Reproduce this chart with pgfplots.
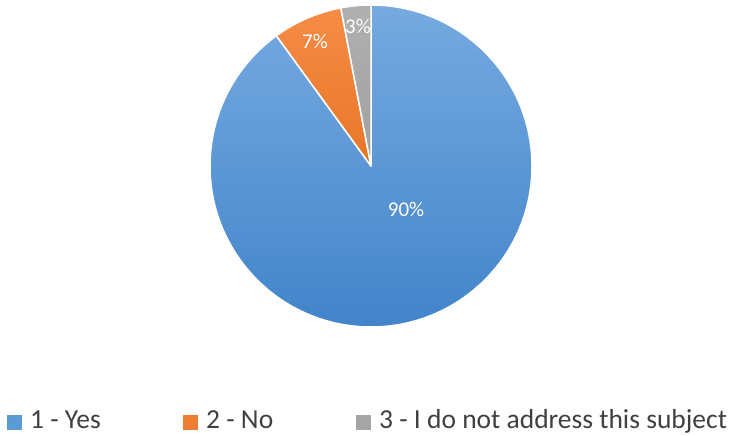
\documentclass[border=0pt]{standalone}
\usepackage{pgfplots}
\usepackage{pgfplotstable}
\pgfplotsset{compat=1.18}
\usepackage{fontspec}
\setmainfont{Carlito}
\definecolor{bluetop}{RGB}{118,170,224}
\definecolor{bluebot}{RGB}{66,132,202}
\definecolor{orangetop}{RGB}{246,140,70}
\definecolor{orangebot}{RGB}{232,118,40}
\definecolor{graytop}{RGB}{176,176,176}
\definecolor{graybot}{RGB}{160,160,160}
\definecolor{legblue}{RGB}{91,155,213}
\definecolor{legorange}{RGB}{237,125,49}
\definecolor{leggray}{RGB}{165,165,165}
\definecolor{txt}{RGB}{64,64,64}
\pgfplotstableread[col sep=comma]{
name,value
1 - Yes,90
2 - No,7
3 - I do not address this subject,3
}\piedata
\begin{document}
\begin{tikzpicture}
% angles from the table values (start at top, clockwise)
\pgfplotstablegetelem{0}{value}\of\piedata \edef\vA{\pgfplotsretval}
\pgfplotstablegetelem{1}{value}\of\piedata \edef\vB{\pgfplotsretval}
\pgfplotstablegetelem{2}{value}\of\piedata \edef\vC{\pgfplotsretval}
\pgfmathsetmacro{\aA}{90}
\pgfmathsetmacro{\aB}{90-3.6*\vA}
\pgfmathsetmacro{\aC}{\aB-3.6*\vB}
\pgfmathsetmacro{\aD}{\aC-3.6*\vC}
\begin{axis}[
  anchor=south west, at={(0,0)},
  width=737bp, height=436bp, scale only axis,
  xmin=0, xmax=737, ymin=0, ymax=436,
  axis lines=none, ticks=none, clip=false,
]
\path[top color=bluetop, bottom color=bluebot, draw=white, line width=1.5bp, line join=round]
  (axis cs:371,270) -- ++(\aA:161bp) arc[start angle=\aA, end angle=\aB, radius=161bp] -- cycle;
\path[top color=orangetop, bottom color=orangebot, draw=white, line width=1.5bp, line join=round]
  (axis cs:371,270) -- ++(\aB:161bp) arc[start angle=\aB, end angle=\aC, radius=161bp] -- cycle;
\path[top color=graytop, bottom color=graybot, draw=white, line width=1.5bp, line join=round]
  (axis cs:371,270) -- ++(\aC:161bp) arc[start angle=\aC, end angle=\aD, radius=161bp] -- cycle;
\node[text=white, font=\fontsize{21bp}{24bp}\selectfont] at (axis cs:406,227) {\vA\%};
\node[text=white, font=\fontsize{21bp}{24bp}\selectfont] at (axis cs:315,395) {\vB\%};
\node[text=white, font=\fontsize{21bp}{24bp}\selectfont] at (axis cs:358,410) {\vC\%};
% legend
\fill[legblue] (axis cs:7,6) rectangle (axis cs:22,21);
\node[anchor=base west, inner sep=0pt, text=txt, font=\fontsize{27.5bp}{31bp}\selectfont] at (axis cs:30,7.5) {1 - Yes};
\fill[legorange] (axis cs:183,6) rectangle (axis cs:198,21);
\node[anchor=base west, inner sep=0pt, text=txt, font=\fontsize{27.5bp}{31bp}\selectfont] at (axis cs:206,7.5) {2 - No};
\fill[leggray] (axis cs:356,6) rectangle (axis cs:371,21);
\node[anchor=base west, inner sep=0pt, text=txt, font=\fontsize{27.5bp}{31bp}\selectfont] at (axis cs:379,7.5) {3 - I do not address this subject};
\end{axis}
\pgfresetboundingbox
\useasboundingbox (0,0) rectangle (737bp,436bp);
\end{tikzpicture}
\end{document}
